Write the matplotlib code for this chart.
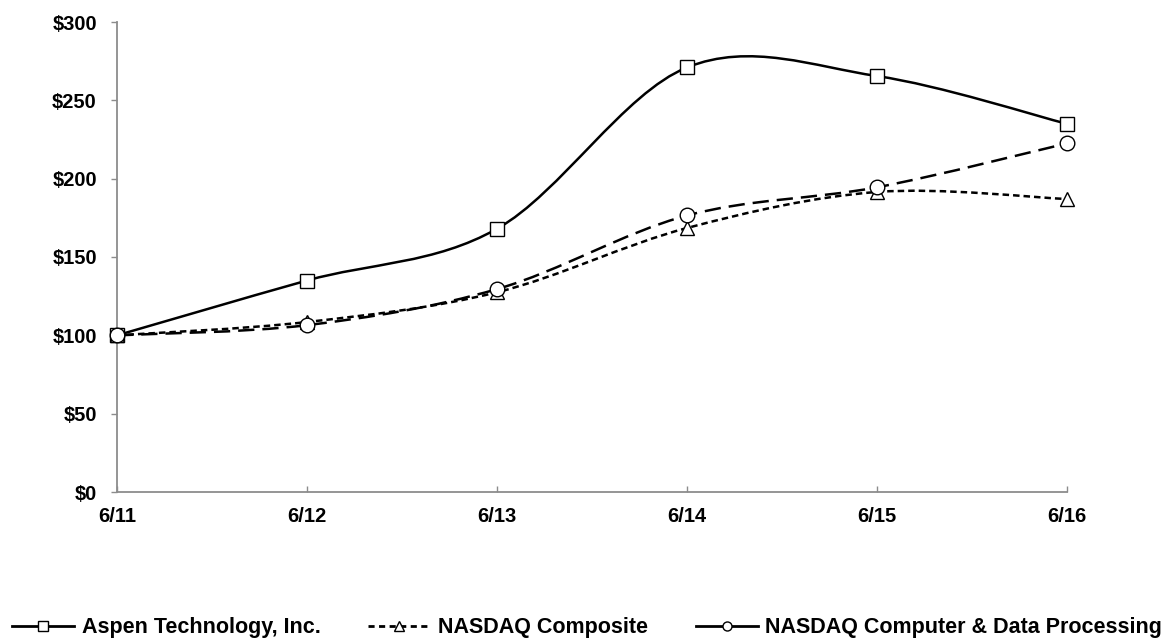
import numpy as np
import matplotlib
matplotlib.use("Agg")
import matplotlib.pyplot as plt
from matplotlib.path import Path
from matplotlib.patches import PathPatch
from matplotlib.lines import Line2D

# data (cumulative total return, $100 base)
periods = ["6/11", "6/12", "6/13", "6/14", "6/15", "6/16"]
aspen = [100, 135, 168, 271, 265.5, 235]
nasdaq_composite = [100, 108.5, 127.5, 168.5, 191.5, 187]
nasdaq_computer = [100, 106.5, 129.5, 176.5, 194.5, 222.5]
yticks = [0, 50, 100, 150, 200, 250, 300]

plt.rcParams['font.family'] = ['Liberation Sans', 'DejaVu Sans']
plt.rcParams['font.weight'] = 'bold'


def smooth_path(xs, ys):
    # excel-style smoothed line: cubic bezier with catmull-rom control points
    xs = np.asarray(xs, float)
    ys = np.asarray(ys, float)
    px = np.concatenate([[xs[0]], xs, [xs[-1]]])
    py = np.concatenate([[ys[0]], ys, [ys[-1]]])
    verts = [(xs[0], ys[0])]
    codes = [Path.MOVETO]
    for i in range(1, len(xs)):
        c1 = (px[i] + (px[i + 1] - px[i - 1]) / 6, py[i] + (py[i + 1] - py[i - 1]) / 6)
        c2 = (px[i + 1] - (px[i + 2] - px[i]) / 6, py[i + 1] - (py[i + 2] - py[i]) / 6)
        verts += [c1, c2, (px[i + 1], py[i + 1])]
        codes += [Path.CURVE4] * 3
    return Path(verts, codes)


fig = plt.figure(figsize=(11.65, 6.4), dpi=100)
ax = fig.add_axes([117 / 1165, 148 / 640, 950 / 1165, 470 / 640])

x = np.arange(len(periods))
lw = 1.8
series = [
    (aspen, '-', 's'),
    (nasdaq_composite, (0, (2.6, 1.6)), '^'),
    (nasdaq_computer, (0, (6.5, 3.2)), 'o'),
]
for vals, ls, mk in series:
    ax.add_patch(PathPatch(smooth_path(x, vals), fill=False, edgecolor='black',
                           linewidth=lw, linestyle=ls, capstyle='butt'))
    ax.plot(x, vals, linestyle='none', marker=mk, markersize=10 if mk == 's' else 10.5,
            markerfacecolor='white', markeredgecolor='black', markeredgewidth=1.0,
            clip_on=False, zorder=3)

ax.set_xlim(0, len(periods) - 1)
ax.set_ylim(0, 300)
ax.set_xticks(x)
ax.set_xticklabels(periods)
ax.set_yticks(yticks)
ax.set_yticklabels(['$%d' % v for v in yticks])

for s in ['top', 'right']:
    ax.spines[s].set_visible(False)
for s in ['left', 'bottom']:
    ax.spines[s].set_color('#8c8c8c')
    ax.spines[s].set_linewidth(1.3)
ax.tick_params(axis='y', direction='out', length=4.5, width=1, color='#8c8c8c',
               labelsize=14.5, pad=10)
ax.tick_params(axis='x', direction='in', length=4, width=1, color='#8c8c8c',
               labelsize=14.5, pad=11)

handles = [
    Line2D([], [], color='black', lw=2, marker='s', markersize=6.5,
           markerfacecolor='white', markeredgewidth=1),
    Line2D([], [], color='black', lw=2, ls=(0, (2.2, 1.6)), marker='^', markersize=6.5,
           markerfacecolor='white', markeredgewidth=1),
    Line2D([], [], color='black', lw=2, marker='o', markersize=6.5,
           markerfacecolor='white', markeredgewidth=1),
]
labels = ["Aspen Technology, Inc.", "NASDAQ Composite", "NASDAQ Computer & Data Processing"]
fig.legend(handles, labels, loc='center', bbox_to_anchor=(0.504, 12 / 640), ncol=3,
           frameon=False, fontsize=15.5, handlelength=2.9, handletextpad=0.35,
           columnspacing=2.2, borderpad=0, borderaxespad=0)

fig.savefig('out.png', dpi=100)
